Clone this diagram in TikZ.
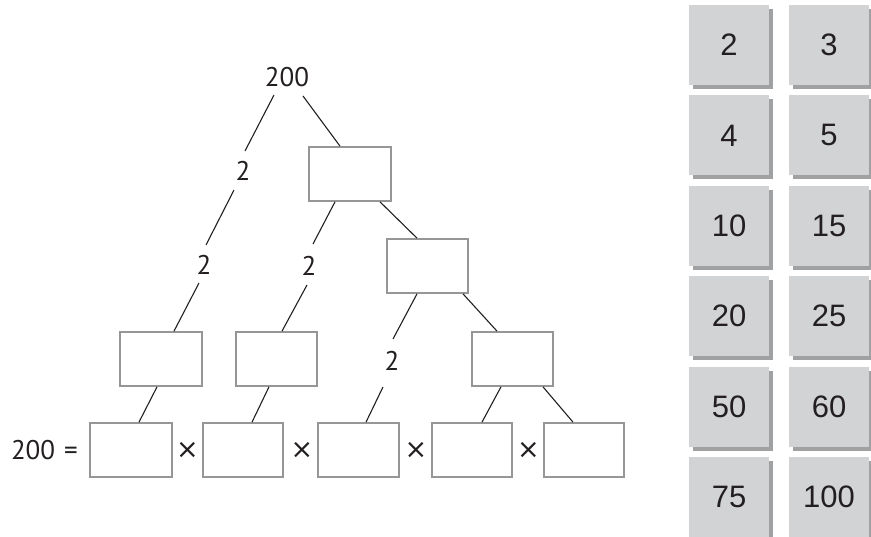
\documentclass[tikz,border=0pt]{standalone}
\usepackage{fontspec}
\setmainfont{PT Sans}
\newfontfamily\cardfont{Liberation Sans}
\newfontfamily\symfont{DejaVu Sans}
\usetikzlibrary{calc}
\definecolor{cardface}{RGB}{209,211,212}
\definecolor{cardshade}{RGB}{160,161,163}
\definecolor{boxline}{RGB}{150,150,150}
\definecolor{ink}{RGB}{35,31,32}
\tikzset{
  lab/.style={inner sep=0pt, text=ink, font=\fontsize{27}{27}\selectfont},
  times/.style={inner sep=0pt, text=ink, font=\symfont\fontsize{27}{27}\selectfont},
  ebox/.style={draw=boxline, line width=1.7pt, fill=white, minimum width=81pt, minimum height=54pt, inner sep=0pt},
  conn/.style={draw=ink, line width=1.1pt},
  card/.style={fill=cardface, minimum width=80pt, minimum height=80pt, inner sep=0pt, text=ink, font=\cardfont\fontsize{31}{31}\selectfont},
  shade/.style={fill=cardshade}
}
\begin{document}
\begin{tikzpicture}[x=1pt,y=-1pt]
\useasboundingbox (0,0) rectangle (871,537);
% tree labels
\node[lab] (top) at (287,77) {200};
\node[lab] (la) at (243,171) {2};
\node[lab] (lb) at (204,265) {2};
\node[lab] (lc) at (309,266) {2};
\node[lab] (ld) at (392,361) {2};
% boxes
\node[ebox, minimum width=82pt] (b1) at (350,174) {};
\node[ebox] (b2) at (427.5,266) {};
\node[ebox, minimum width=82pt] (m1) at (161,359) {};
\node[ebox] (m2) at (276.5,359) {};
\node[ebox] (mR) at (512.5,359) {};
\node[ebox, minimum width=82pt] (c1) at (131,450) {};
\node[ebox, minimum width=80pt] (c2) at (243,450) {};
\node[ebox] (c3) at (358.5,450) {};
\node[ebox, minimum width=80pt] (c4) at (472,450) {};
\node[ebox, minimum width=80pt] (c5) at (584,450) {};
% equation row
\node[lab, anchor=east] (eq) at (78,450) {200\hspace{9pt}=};
\node[times] (x1) at (187.5,450.5) {×};
\node[times] (x2) at (302,450.5) {×};
\node[times] (x3) at (416,450.5) {×};
\node[times] (x4) at (528.5,450.5) {×};
% connectors
\draw[conn] ($(top)+(-13,18)$) -- ($(la)+(2,-20)$);
\draw[conn] ($(top)+(16,19)$) -- ($(b1.north)+(-10,0)$);
\draw[conn] ($(la)+(-9,19)$) -- ($(lb)+(2,-20)$);
\draw[conn] ($(lb)+(-5,18)$) -- ($(m1.north)+(13,0)$);
\draw[conn] ($(b1.south)+(-15,0)$) -- ($(lc)+(4,-22)$);
\draw[conn] ($(lc)+(-2,19)$) -- ($(m2.north)+(5.5,0)$);
\draw[conn] ($(b1.south)+(30,0)$) -- ($(b2.north)+(-10.5,0)$);
\draw[conn] ($(b2.south)+(-10.5,0)$) -- ($(ld)+(1,-22)$);
\draw[conn] ($(b2.south)+(35.5,0)$) -- ($(mR.north)+(-15.5,0)$);
\draw[conn] ($(m1.south)+(-4,0)$) -- ($(c1.north)+(8,0)$);
\draw[conn] ($(m2.south)+(-7.5,0)$) -- ($(c2.north)+(9,0)$);
\draw[conn] ($(ld)+(-9,26)$) -- ($(c3.north)+(7.5,0)$);
\draw[conn] ($(mR.south)+(-11.5,0)$) -- ($(c4.north)+(10,0)$);
\draw[conn] ($(mR.south)+(30.5,0)$) -- ($(c5.north)+(-11,0)$);
% number cards
\foreach \a/\b [count=\i from 0] in {2/3,4/5,10/15,20/25,50/60,75/100}{
  \pgfmathsetmacro{\ty}{5+90.4*\i}
  \fill[shade] (693,\ty+4) rectangle (773,\ty+84);
  \fill[shade] (793,\ty+4) rectangle (873,\ty+84);
  \node[card] (k\i a) at (729,\ty+40) {\a};
  \node[card] (k\i b) at (829,\ty+40) {\b};
}
\end{tikzpicture}
\end{document}
